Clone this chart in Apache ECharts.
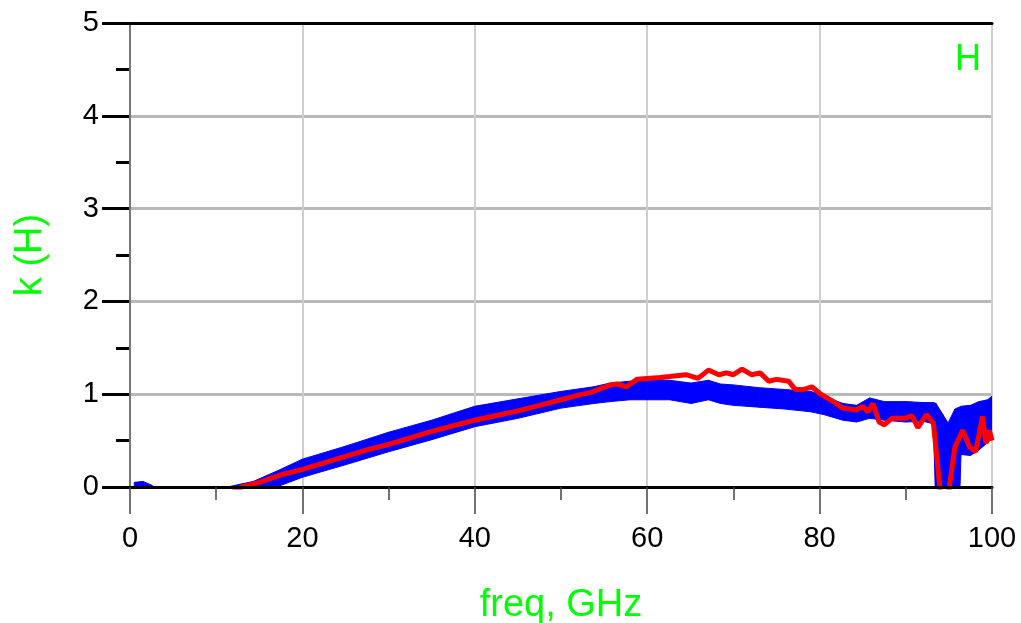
<!DOCTYPE html>
<html>
<head>
<meta charset="utf-8">
<title>k (H)</title>
<script src="https://cdn.jsdelivr.net/npm/echarts@6/dist/echarts.min.js"></script>
<style>
  html, body { margin: 0; padding: 0; background: #fff; }
  #chart { width: 1021px; height: 623px; }
</style>
</head>
<body>
<div id="chart"></div>
<script>
// blue trace, read as a band (lower / upper edge of the noisy curve)
var freqBlue = [0.5, 1.5, 2.5, 3.5, 10.8, 14.3, 17, 20, 25, 30, 35, 40, 45, 50, 53.8, 55.7, 58, 60,
  62.6, 65.1, 67.1, 68.5, 70, 73, 76, 79, 80.5, 82.7, 84.3, 85.8, 87.5, 90, 92, 93.2, 93.5, 94.3,
  94.9, 95.7, 96.2, 96.4, 97.5, 98.5, 99.5, 100];
var blueLow = [-0.1, -0.1, -0.15, -0.3, -0.3, -0.1, 0.0, 0.105, 0.24, 0.38, 0.51, 0.65, 0.74, 0.85, 0.90, 0.92, 0.94, 0.94,
  0.94, 0.90, 0.94, 0.90, 0.88, 0.86, 0.84, 0.81, 0.78, 0.72, 0.70, 0.74, 0.72, 0.70, 0.71, 0.68, -0.3, -0.3,
  -0.3, -0.3, -0.3, 0.35, 0.34, 0.40, 0.48, 0.52];
var blueHigh = [0.05, 0.06, 0.02, -0.05, -0.01, 0.06, 0.17, 0.30, 0.44, 0.59, 0.72, 0.87, 0.95, 1.03, 1.08, 1.12, 1.14, 1.16,
  1.15, 1.12, 1.15, 1.11, 1.10, 1.07, 1.05, 1.03, 0.98, 0.90, 0.88, 0.96, 0.92, 0.92, 0.91, 0.91, 0.90, 0.78,
  0.69, 0.84, 0.86, 0.87, 0.88, 0.92, 0.94, 0.98];

// red trace
var freqRed = [12, 13, 15, 17.5, 20, 22.5, 25, 27.5, 30, 32.5, 35, 37.5, 40, 42.5, 45, 47.5, 50, 52, 53.5,
  55.7, 56.5, 57.6, 58.8, 60, 61.5, 62.6, 64.5, 65.9, 67.1, 68.3, 69.2, 70, 71, 72.1, 73.1, 74.1, 75, 76.4,
  77.2, 78.1, 79.1, 80, 81.6, 82.7, 84.3, 85, 85.6, 86.2, 86.9, 87.5, 88.4, 90, 90.7, 91.4, 92.4, 93.2,
  94.0, 94.3, 94.9, 95.2, 95.7, 96.6, 97.4, 98.1, 98.9, 99.3, 99.7, 100];
var redK = [-0.05, 0.0, 0.05, 0.13, 0.19, 0.26, 0.33, 0.40, 0.46, 0.53, 0.60, 0.66, 0.72, 0.77, 0.82, 0.88, 0.94, 0.99, 1.02,
  1.10, 1.11, 1.08, 1.16, 1.17, 1.18, 1.19, 1.21, 1.17, 1.26, 1.21, 1.23, 1.21, 1.27, 1.21, 1.23, 1.14, 1.16, 1.14,
  1.05, 1.05, 1.08, 1.01, 0.92, 0.85, 0.83, 0.87, 0.81, 0.90, 0.70, 0.67, 0.74, 0.74, 0.77, 0.64, 0.78, 0.69,
  -0.05, -0.2, -0.1, 0.1, 0.43, 0.61, 0.43, 0.38, 0.76, 0.47, 0.61, 0.50];

var xTicks = [0, 20, 40, 60, 80, 100];
var yTicks = [0, 1, 2, 3, 4, 5];

var FONT = "'Liberation Sans', Arial, sans-serif";
var GREEN = '#00ff00';

function pairs(xs, ys) {
  var out = [];
  for (var i = 0; i < xs.length; i++) {
    out.push([xs[i], ys[i]]);
  }
  return out;
}

var bandRows = [];
for (var i = 0; i < freqBlue.length; i++) {
  bandRows.push([freqBlue[i], blueLow[i], blueHigh[i]]);
}

// one filled quad between sample i and i+1
function renderBand(params, api) {
  var i = params.dataIndexInside;
  if (i >= params.dataInsideLength - 1) return;
  var x1 = api.value(0, i), x2 = api.value(0, i + 1);
  var pts = [
    api.coord([x1, api.value(1, i)]),
    api.coord([x1, api.value(2, i)]),
    api.coord([x2, api.value(2, i + 1)]),
    api.coord([x2, api.value(1, i + 1)])
  ];
  return {
    type: 'polygon',
    shape: { points: pts },
    style: { fill: '#0000ff', stroke: '#0000ff', lineWidth: 1 }
  };
}

var myChart = echarts.init(document.getElementById('chart'));

var option = {
  animation: false,
  backgroundColor: '#fff',
  title: {
    text: 'H',
    right: 35,
    top: 37,
    textStyle: { color: GREEN, fontSize: 36, fontWeight: 'normal', fontFamily: FONT }
  },
  grid: { left: 130, right: 29, top: 23, bottom: 136, containLabel: false, outerBoundsMode: 'none' },
  xAxis: [
    {
      // main bottom axis: black line, ticks, labels
      type: 'value',
      position: 'bottom',
      min: xTicks[0],
      max: xTicks[xTicks.length - 1],
      interval: 20,
      z: 10,
      name: 'freq, GHz',
      nameLocation: 'middle',
      nameGap: 100,
      nameTextStyle: { color: GREEN, fontSize: 38, fontFamily: FONT },
      axisLine: { show: true, lineStyle: { color: '#000', width: 3 } },
      axisTick: { show: true, length: 27, lineStyle: { color: '#444', width: 1.5 } },
      minorTick: { show: true, splitNumber: 2, length: 13, lineStyle: { color: '#444', width: 1.5 } },
      axisLabel: { color: '#000', fontSize: 29, fontFamily: FONT, margin: 37 },
      splitLine: { show: false }
    },
    {
      // vertical grid lines only
      type: 'value',
      position: 'bottom',
      min: 0,
      max: 100,
      interval: 20,
      z: 0,
      axisLine: { show: false },
      axisTick: { show: false },
      axisLabel: { show: false },
      splitLine: { show: true, lineStyle: { color: '#cfcfcf', width: 2 } }
    },
    {
      // black top frame
      type: 'value',
      position: 'top',
      min: 0,
      max: 100,
      z: 10,
      axisLine: { show: true, lineStyle: { color: '#000', width: 3 } },
      axisTick: { show: false },
      axisLabel: { show: false },
      splitLine: { show: false }
    }
  ],
  yAxis: [
    {
      type: 'value',
      position: 'left',
      min: yTicks[0],
      max: yTicks[yTicks.length - 1],
      interval: 1,
      name: 'k (H)',
      nameLocation: 'middle',
      nameGap: 80,
      nameTextStyle: { color: GREEN, fontSize: 38, fontFamily: FONT },
      axisLine: { show: true, lineStyle: { color: '#000', width: 1.5 } },
      axisTick: { show: true, length: 28, lineStyle: { color: '#000', width: 3 } },
      minorTick: { show: true, splitNumber: 2, length: 14, lineStyle: { color: '#000', width: 3 } },
      axisLabel: { color: '#000', fontSize: 29, fontFamily: FONT, margin: 31 },
      splitLine: { show: true, lineStyle: { color: '#b8b8b8', width: 3 } }
    },
    {
      // gray right frame
      type: 'value',
      position: 'right',
      min: 0,
      max: 5,
      z: 10,
      axisLine: { show: true, lineStyle: { color: '#777', width: 2 } },
      axisTick: { show: false },
      axisLabel: { show: false },
      splitLine: { show: false }
    }
  ],
  series: [
    {
      name: 'blue',
      type: 'custom',
      xAxisIndex: 0,
      yAxisIndex: 0,
      clip: true,
      renderItem: renderBand,
      encode: { x: 0, y: [1, 2] },
      data: bandRows,
      z: 2
    },
    {
      name: 'red',
      type: 'line',
      xAxisIndex: 0,
      yAxisIndex: 0,
      symbol: 'none',
      clip: true,
      lineStyle: { color: '#ff0000', width: 5 },
      data: pairs(freqRed, redK),
      z: 3
    }
  ]
};

myChart.setOption(option);
</script>
</body>
</html>
